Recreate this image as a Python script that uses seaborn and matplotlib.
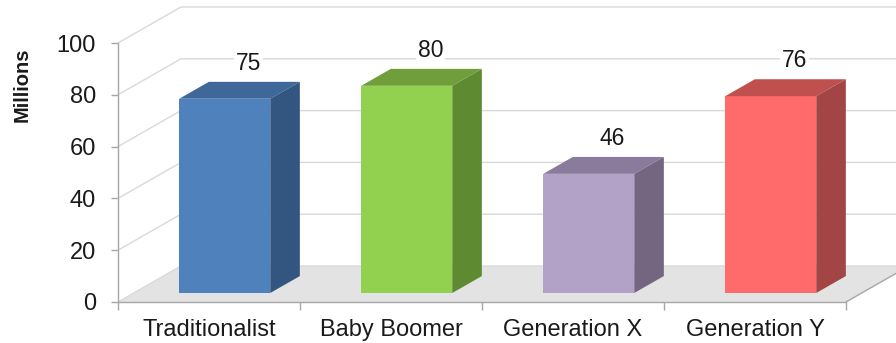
import matplotlib
matplotlib.use("Agg")
import matplotlib.pyplot as plt
import matplotlib.transforms as mtransforms
from matplotlib.patches import Polygon
import seaborn as sns

# data
categories = ["Traditionalist", "Baby Boomer", "Generation X", "Generation Y"]
values = [75, 80, 46, 76]
yticks = [0, 20, 40, 60, 80, 100]

# colours: front / top / side of each bar
front_colors = ["#4F81BD", "#92D050", "#B3A2C7", "#FF6B6B"]
top_colors = ["#3D6899", "#6F9E3A", "#8A7A9C", "#C0504D"]
side_colors = ["#335680", "#5E8A32", "#746680", "#A34545"]

sns.set_style("white")
plt.rcParams["font.family"] = ["Liberation Sans", "DejaVu Sans"]

fig = plt.figure(figsize=(8.96, 3.43), dpi=100)
ax = fig.add_axes([118 / 896, 41 / 343, 728 / 896, 259 / 343])

# depth of the fake 3-D box in data units
DX, DY = 0.346, 13.9
F0, F1 = 0.25, 0.72   # front / back of the bars as share of the depth
x0, x1 = -0.5, len(categories) - 0.5
grid_c = "#d9d9d9"
axis_c = "#a6a6a6"

# front faces of the bars
sns.barplot(x=categories, y=values, hue=categories, palette=front_colors,
            saturation=1, width=0.5, legend=False, ax=ax, zorder=3)
bars = [b for c in ax.containers for b in c]

# walls: gridlines on left wall + back wall
for t in yticks:
    ax.plot([x0, x0 + DX, x1 + DX + 0.3], [t, t + DY, t + DY],
            color=grid_c, lw=1, clip_on=False, zorder=0.6)

# floor
floor = Polygon([(x0, 0), (x1, 0), (x1 + DX, DY), (x0 + DX, DY)],
                closed=True, fc="#e3e3e3", ec="none", zorder=0.5, clip_on=False)
ax.add_patch(floor)
ax.plot([x1, x1 + DX], [0, DY], color=axis_c, lw=1, clip_on=False, zorder=0.7)

shift = mtransforms.Affine2D().translate(F0 * DX, F0 * DY) + ax.transData
ddx, ddy = (F1 - F0) * DX, (F1 - F0) * DY
for i, bar in enumerate(bars):
    bar.set_transform(shift)
    bar.set_clip_on(False)
    bar.set_edgecolor("none")
    bx = bar.get_x() + F0 * DX
    w, h = bar.get_width(), bar.get_height()
    by = F0 * DY
    top = Polygon([(bx, by + h), (bx + w, by + h), (bx + w + ddx, by + h + ddy),
                   (bx + ddx, by + h + ddy)], closed=True, fc=top_colors[i],
                  ec="none", zorder=3, clip_on=False)
    side = Polygon([(bx + w, by), (bx + w + ddx, by + ddy),
                    (bx + w + ddx, by + h + ddy), (bx + w, by + h)], closed=True,
                   fc=side_colors[i], ec="none", zorder=3, clip_on=False)
    ax.add_patch(top)
    ax.add_patch(side)
    ax.annotate(f"{values[i]}", (bx + w / 2 + 0.8 * ddx, by + h + ddy),
                xytext=(0, 5), textcoords="offset points", ha="center",
                va="bottom", fontsize=16.5, color="#1a1a1a", zorder=5,
                bbox=dict(fc="white", ec="none", pad=1.5), annotation_clip=False)

ax.set_xlim(x0, x1)
ax.set_ylim(0, 100)
ax.patch.set_visible(False)
ax.set_xlabel("")
ax.set_ylabel("")

ax.set_yticks(yticks)
ax.tick_params(axis="y", left=True, length=5, width=1, color=axis_c, pad=11,
               labelsize=17, labelcolor="#1a1a1a")
ax.set_xticks([x0 + k for k in range(len(categories) + 1)], minor=True)
ax.tick_params(axis="x", which="major", bottom=False, length=0, pad=12,
               labelsize=17, labelcolor="#1a1a1a")
ax.tick_params(axis="x", which="minor", bottom=True, length=6, width=1,
               color=axis_c)

for s in ["top", "right"]:
    ax.spines[s].set_visible(False)
for s in ["left", "bottom"]:
    ax.spines[s].set_color(axis_c)
    ax.spines[s].set_linewidth(1)
    ax.spines[s].set_zorder(4)

fig.text(22 / 896, 1 - 85 / 343, "Millions", rotation=90, ha="center",
         va="center", fontsize=14.5, fontweight="bold", color="#1a1a1a")

fig.savefig("out.png", dpi=100)
